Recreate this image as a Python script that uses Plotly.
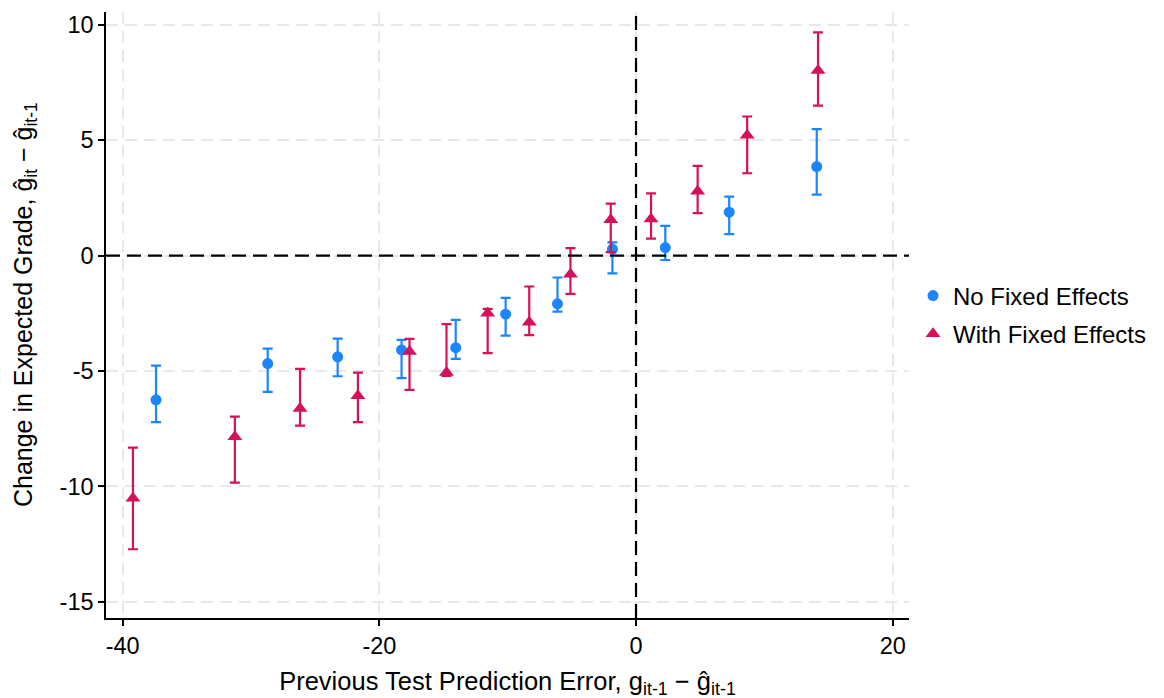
import plotly.graph_objects as go

# ---- data ----
nofe_x = [-37.4, -28.7, -23.25, -18.27, -14.05, -10.16, -6.12, -1.84, 2.28, 7.26, 14.08]
nofe_y = [-6.25, -4.68, -4.39, -4.09, -3.99, -2.54, -2.09, 0.28, 0.35, 1.88, 3.86]
nofe_hi = [-4.77, -4.03, -3.60, -3.65, -2.79, -1.83, -0.95, 0.57, 1.29, 2.56, 5.48]
nofe_lo = [-7.22, -5.91, -5.23, -5.31, -4.48, -3.47, -2.43, -0.77, -0.19, 0.93, 2.64]

fe_x = [-39.2, -31.26, -26.18, -21.67, -17.65, -14.77, -11.56, -8.32, -5.11, -1.97, 1.17, 4.80, 8.66, 14.18]
fe_y = [-10.52, -7.85, -6.63, -6.08, -4.16, -5.07, -2.50, -2.89, -0.81, 1.55, 1.59, 2.79, 5.22, 8.02]
fe_hi = [-8.32, -6.98, -4.91, -5.07, -3.61, -2.97, -2.31, -1.34, 0.32, 2.25, 2.70, 3.89, 6.03, 9.68]
fe_lo = [-12.73, -9.84, -7.37, -7.22, -5.82, -5.21, -4.23, -3.45, -1.66, 0.15, 0.74, 1.84, 3.57, 6.50]

x_ticks = [-40, -20, 0, 20]
y_ticks = [-15, -10, -5, 0, 5, 10]

BLUE = "#1A85FF"
RED = "#D41159"
FONT = "Liberation Sans, Arial, sans-serif"

fig = go.Figure()
fig.add_trace(go.Scatter(
    x=nofe_x, y=nofe_y, mode="markers", name="No Fixed Effects",
    legendgroup="a",
    marker=dict(symbol="circle", size=11, color=BLUE),
    error_y=dict(type="data", symmetric=False,
                 array=[h - v for h, v in zip(nofe_hi, nofe_y)],
                 arrayminus=[v - l for v, l in zip(nofe_y, nofe_lo)],
                 color=BLUE, thickness=2.2, width=5),
))
fig.add_trace(go.Scatter(
    x=fe_x, y=fe_y, mode="markers", name="With Fixed Effects",
    legendgroup="b",
    marker=dict(symbol="triangle-up", size=13, color=RED),
    error_y=dict(type="data", symmetric=False,
                 array=[h - v for h, v in zip(fe_hi, fe_y)],
                 arrayminus=[v - l for v, l in zip(fe_y, fe_lo)],
                 color=RED, thickness=2.2, width=5),
))

# reference lines at zero
fig.add_shape(type="line", xref="x", yref="paper", x0=0, x1=0, y0=0, y1=1,
              line=dict(color="black", width=2.2, dash="14px,7px"), layer="above")
fig.add_shape(type="line", xref="paper", yref="y", x0=0, x1=1, y0=0, y1=0,
              line=dict(color="black", width=2.2, dash="14px,7px"), layer="above")

axis_common = dict(
    showline=True, linecolor="black", linewidth=1.5,
    ticks="outside", ticklen=6, tickwidth=1.5, tickcolor="black",
    showgrid=True, gridcolor="#e8e8e8", gridwidth=1.5, griddash="12px,7px",
    zeroline=False, tickfont=dict(family=FONT, size=23.5, color="black"),
)

fig.update_xaxes(
    range=[-41.3, 21.27], tickvals=x_ticks, ticktext=[str(v) for v in x_ticks],
    title=dict(text="Previous Test Prediction Error, g<sub>it-1</sub> − ĝ<sub>it-1</sub>",
               font=dict(family=FONT, size=25.5, color="black"), standoff=14),
    **axis_common,
)
fig.update_yaxes(
    range=[-15.71, 10.56], tickvals=y_ticks, ticktext=[str(v) for v in y_ticks],
    **axis_common,
)

# y-axis title as rotated annotation
fig.add_annotation(
    text="Change in Expected Grade, ĝ<sub>it</sub> − ĝ<sub>it-1</sub>",
    xref="paper", yref="paper", x=-0.1009, y=0.518,
    xanchor="center", yanchor="middle", textangle=-90, showarrow=False,
    font=dict(family=FONT, size=25, color="black"),
)

fig.update_layout(
    width=1164, height=698,
    margin=dict(l=98, r=263, t=4, b=88, autoexpand=False),
    paper_bgcolor="white", plot_bgcolor="white",
    font=dict(family=FONT, size=23, color="black"),
    showlegend=True,
    legend=dict(x=1.005, xanchor="left", y=0.5, yanchor="middle",
                font=dict(family=FONT, size=24, color="black"),
                traceorder="grouped", tracegroupgap=4,
                bgcolor="rgba(0,0,0,0)", itemwidth=30),
)

fig.write_html("out.html")
